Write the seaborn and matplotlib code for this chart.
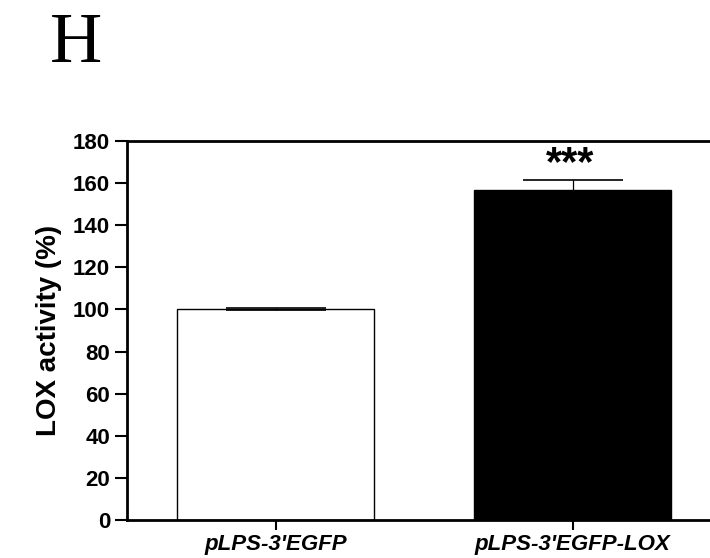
import matplotlib
matplotlib.use("Agg")
import matplotlib.pyplot as plt
import seaborn as sns
import pandas as pd

# Data
groups = ["pLPS-3'EGFP", "pLPS-3'EGFP-LOX"]
activity = [100.0, 156.6]
sem = [0.5, 5.1]
bar_colors = ["white", "black"]
significance = ["", "***"]
y_ticks = [0, 20, 40, 60, 80, 100, 120, 140, 160, 180]

sns.set_theme(style="white")
plt.rcParams["font.family"] = ["Liberation Sans", "DejaVu Sans"]
plt.rcParams["text.color"] = "black"
plt.rcParams["axes.labelcolor"] = "black"

fig = plt.figure(figsize=(7.10, 5.58), dpi=100)
ax = fig.add_axes([127 / 710, 38 / 558, 594 / 710, 379 / 558])

df = pd.DataFrame({"group": groups, "activity": activity})
sns.barplot(data=df, x="group", y="activity", hue="group", palette=bar_colors,
            order=groups, hue_order=groups, legend=False, errorbar=None,
            width=0.663, edgecolor="black", linewidth=1.0, ax=ax)

ax.errorbar(range(len(groups)), activity, yerr=sem, fmt="none", ecolor="black",
            elinewidth=0.9, capsize=36, capthick=1.2, zorder=5)

for i, (v, e, s) in enumerate(zip(activity, sem, significance)):
    if s:
        ax.annotate(s, xy=(i, v + e), xytext=(-2, 3), textcoords="offset points",
                    ha="center", va="baseline", fontsize=30, fontweight="bold",
                    color="black")

ax.set_xlim(-0.5, 1.5)
ax.set_ylim(0, 180)
ax.set_yticks(y_ticks)
ax.set_yticklabels([str(t) for t in y_ticks], fontsize=16, fontweight="bold")
ax.set_xticks(range(len(groups)))
ax.set_xticklabels(groups, fontsize=16, fontweight="bold", fontstyle="italic")
ax.set_xlabel("")
ax.set_ylabel("LOX activity (%)", fontsize=20, fontweight="bold", labelpad=8,
              color="black")

for side in ["left", "bottom", "top"]:
    ax.spines[side].set_visible(True)
    ax.spines[side].set_linewidth(2.0)
    ax.spines[side].set_color("black")
ax.spines["right"].set_visible(False)

ax.tick_params(axis="y", direction="out", length=8.6, width=1.5, pad=3.5,
               colors="black", left=True)
ax.tick_params(axis="x", direction="out", length=7, width=1.5, pad=3,
               colors="black", bottom=True)

fig.text(50 / 710, 1 - 62 / 558, "H", fontsize=52, family=["Liberation Serif"],
         ha="left", va="baseline", color="black")

fig.savefig("out.png", dpi=100)
